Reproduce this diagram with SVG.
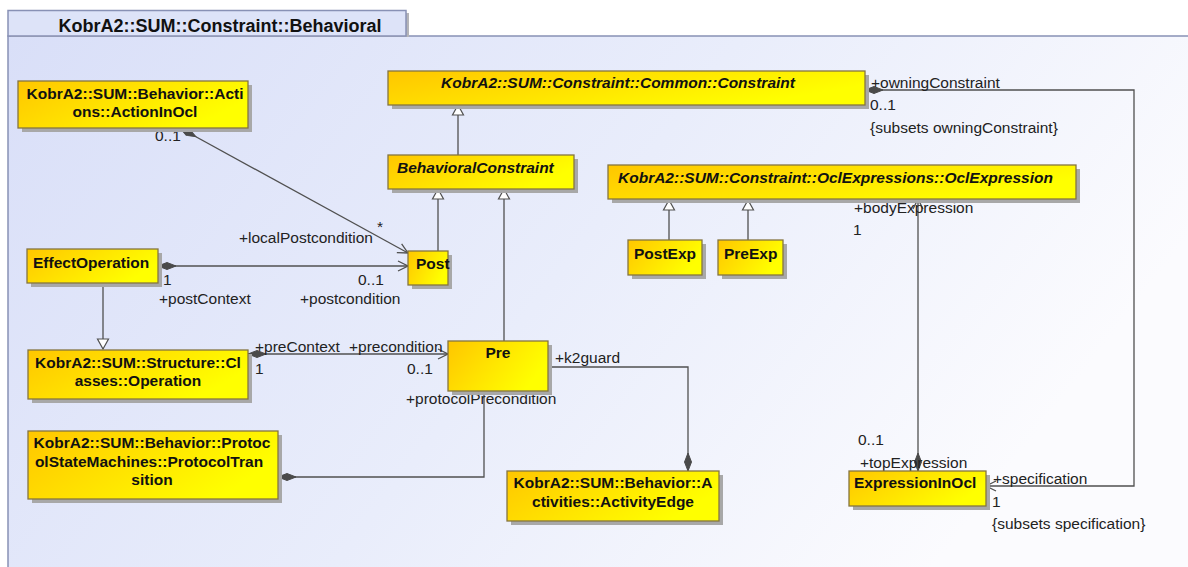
<svg xmlns="http://www.w3.org/2000/svg" width="1188" height="567" viewBox="0 0 1188 567">
  <defs>
    <linearGradient id="frameFill" x1="0" y1="0" x2="1" y2="0.35">
      <stop offset="0" stop-color="#d9dff8"/>
      <stop offset="0.55" stop-color="#e9edfb"/>
      <stop offset="1" stop-color="#fbfbfe"/>
    </linearGradient>
    <linearGradient id="classFill" x1="0" y1="0" x2="1" y2="0.4">
      <stop offset="0" stop-color="#ffc600"/>
      <stop offset="1" stop-color="#ffff00"/>
    </linearGradient>
    <marker id="diamond" markerUnits="userSpaceOnUse" orient="auto" refX="0" refY="0" overflow="visible">
      <path d="M0,0 L9,-3.5 L18,0 L9,3.5 Z" fill="#4a4a4a" stroke="#4a4a4a" stroke-width="1"/>
    </marker>
    <marker id="openArrow" markerUnits="userSpaceOnUse" orient="auto" refX="0" refY="0" overflow="visible">
      <path d="M-10,-5 L0,0 L-10,5" fill="none" stroke="#505050" stroke-width="1.3"/>
    </marker>
    <marker id="genTri" markerUnits="userSpaceOnUse" orient="auto" refX="0" refY="0" overflow="visible">
      <path d="M0,0 L-10,-5.5 L-10,5.5 Z" fill="#ffffff" stroke="#505050" stroke-width="1.2"/>
    </marker>
    <style>
      .cls rect.box { fill: url(#classFill); stroke: #857540; stroke-width: 1.3; }
      .cls rect.shadow { fill: #a8a8a8; }
      .name { font-family: "Liberation Sans", Arial, sans-serif; font-size: 15.5px; font-weight: bold; fill: #111; }
      .abstract { font-style: italic; }
      .lbl { font-family: "Liberation Sans", Arial, sans-serif; font-size: 15.5px; fill: #222; }
      .conn { fill: none; stroke: #505050; stroke-width: 1.3; }
      .gen { marker-end: url(#genTri); }
    </style>
  </defs>

  <!-- package frame -->
  <g id="frame">
    <rect x="0" y="0" width="1188" height="567" fill="#ffffff"/>
    <rect x="8" y="36" width="1190" height="540" fill="url(#frameFill)" stroke="#8891b5" stroke-width="1.5"/>
    <rect x="11" y="13" width="398" height="24" fill="#b4b4b8"/>
    <rect x="8" y="10.5" width="398" height="25.5" fill="#dde3f8" stroke="#8891b5" stroke-width="1.5"/>
    <text x="220" y="31.5" text-anchor="middle" font-family="'Liberation Sans', Arial, sans-serif" font-size="18px" font-weight="bold" fill="#111">KobrA2::SUM::Constraint::Behavioral</text>
  </g>

  <!-- connectors -->
  <g id="connectors">
    <!-- generalizations -->
    <path class="conn gen" d="M458,155 L458,105"/>
    <path class="conn gen" d="M438,251 L438,189"/>
    <path class="conn gen" d="M504,341 L504,189"/>
    <path class="conn gen" d="M669,240 L669,200"/>
    <path class="conn gen" d="M748,240 L748,200"/>
    <path class="conn gen" d="M103,283 L103,349"/>
    <!-- ActionInOcl to Post -->
    <path class="conn" d="M180,128 L408,253" marker-start="url(#diamond)" marker-end="url(#openArrow)"/>
    <!-- EffectOperation to Post -->
    <path class="conn" d="M158,266 L408,266" marker-start="url(#diamond)" marker-end="url(#openArrow)"/>
    <!-- Operation to Pre -->
    <path class="conn" d="M248,354 L448,354" marker-start="url(#diamond)" marker-end="url(#openArrow)"/>
    <!-- ProtocolTransition to Pre -->
    <path class="conn" d="M278,477 L484,477 L484,391" marker-start="url(#diamond)"/>
    <!-- ActivityEdge to Pre -->
    <path class="conn" d="M688,471 L688,367 L548,367" marker-start="url(#diamond)"/>
    <!-- Constraint to ExpressionInOcl -->
    <path class="conn" d="M865,90 L1134,90 L1134,486 L986,486" marker-start="url(#diamond)" marker-end="url(#openArrow)"/>
    <!-- ExpressionInOcl to OclExpression -->
    <path class="conn" d="M918,471 L918,199" marker-start="url(#diamond)" marker-end="url(#openArrow)"/>

    <!-- association end labels -->
    <text class="lbl" x="155" y="141">0..1</text>
    <text class="lbl" x="377" y="232">*</text>
    <text class="lbl" x="239" y="243">+localPostcondition</text>
    <text class="lbl" x="163" y="285">1</text>
    <text class="lbl" x="159" y="304">+postContext</text>
    <text class="lbl" x="358" y="285">0..1</text>
    <text class="lbl" x="300" y="304">+postcondition</text>
    <text class="lbl" x="255" y="352">+preContext</text>
    <text class="lbl" x="255" y="374">1</text>
    <text class="lbl" x="349" y="352">+precondition</text>
    <text class="lbl" x="407" y="374">0..1</text>
    <text class="lbl" x="406" y="404">+protocolPrecondition</text>
    <text class="lbl" x="555" y="363">+k2guard</text>
    <text class="lbl" x="871" y="88">+owningConstraint</text>
    <text class="lbl" x="870" y="110">0..1</text>
    <text class="lbl" x="870" y="133">{subsets owningConstraint}</text>
    <text class="lbl" x="854" y="213">+bodyExpression</text>
    <text class="lbl" x="853" y="235">1</text>
    <text class="lbl" x="858" y="445">0..1</text>
    <text class="lbl" x="860" y="468">+topExpression</text>
    <text class="lbl" x="993" y="484">+specification</text>
    <text class="lbl" x="992" y="507">1</text>
    <text class="lbl" x="992" y="529">{subsets specification}</text>
  </g>

  <!-- classes -->
  <g id="ActionInOcl" class="cls">
    <rect class="shadow" x="22" y="85" width="230" height="47"/>
    <rect class="box" x="18" y="81" width="230" height="47"/>
    <text class="name" x="135" y="99" text-anchor="middle">KobrA2::SUM::Behavior::Acti</text>
    <text class="name" x="135" y="117" text-anchor="middle">ons::ActionInOcl</text>
  </g>

  <g id="Constraint" class="cls">
    <rect class="shadow" x="392" y="75" width="477" height="34"/>
    <rect class="box" x="388" y="71" width="477" height="34"/>
    <text class="name abstract" x="618" y="88" text-anchor="middle">KobrA2::SUM::Constraint::Common::Constraint</text>
  </g>

  <g id="BehavioralConstraint" class="cls">
    <rect class="shadow" x="392" y="159" width="186" height="34"/>
    <rect class="box" x="388" y="155" width="186" height="34"/>
    <text class="name abstract" x="397" y="173">BehavioralConstraint</text>
  </g>

  <g id="OclExpression" class="cls">
    <rect class="shadow" x="612" y="169" width="468" height="34"/>
    <rect class="box" x="608" y="165" width="468" height="34"/>
    <text class="name abstract" x="618" y="183">KobrA2::SUM::Constraint::OclExpressions::OclExpression</text>
  </g>

  <g id="Post" class="cls">
    <rect class="shadow" x="412" y="255" width="40" height="34"/>
    <rect class="box" x="408" y="251" width="40" height="34"/>
    <text class="name" x="416" y="269">Post</text>
  </g>

  <g id="PostExp" class="cls">
    <rect class="shadow" x="632" y="244" width="74" height="35"/>
    <rect class="box" x="628" y="240" width="74" height="35"/>
    <text class="name" x="634" y="259">PostExp</text>
  </g>

  <g id="PreExp" class="cls">
    <rect class="shadow" x="722" y="244" width="65" height="35"/>
    <rect class="box" x="718" y="240" width="65" height="35"/>
    <text class="name" x="724" y="259">PreExp</text>
  </g>

  <g id="EffectOperation" class="cls">
    <rect class="shadow" x="31" y="253" width="131" height="34"/>
    <rect class="box" x="27" y="249" width="131" height="34"/>
    <text class="name" x="33" y="268">EffectOperation</text>
  </g>

  <g id="Operation" class="cls">
    <rect class="shadow" x="32" y="354" width="220" height="49"/>
    <rect class="box" x="28" y="350" width="220" height="49"/>
    <text class="name" x="138" y="368" text-anchor="middle">KobrA2::SUM::Structure::Cl</text>
    <text class="name" x="138" y="386" text-anchor="middle">asses::Operation</text>
  </g>

  <g id="Pre" class="cls">
    <rect class="shadow" x="452" y="345" width="100" height="50"/>
    <rect class="box" x="448" y="341" width="100" height="50"/>
    <text class="name" x="498" y="358" text-anchor="middle">Pre</text>
  </g>

  <g id="ProtocolTransition" class="cls">
    <rect class="shadow" x="32" y="435" width="250" height="68"/>
    <rect class="box" x="28" y="431" width="250" height="68"/>
    <text class="name" x="152" y="448" text-anchor="middle">KobrA2::SUM::Behavior::Protoc</text>
    <text class="name" x="149" y="467" text-anchor="middle">olStateMachines::ProtocolTran</text>
    <text class="name" x="152" y="485" text-anchor="middle">sition</text>
  </g>

  <g id="ActivityEdge" class="cls">
    <rect class="shadow" x="511" y="475" width="212" height="50"/>
    <rect class="box" x="507" y="471" width="212" height="50"/>
    <text class="name" x="613" y="488" text-anchor="middle">KobrA2::SUM::Behavior::A</text>
    <text class="name" x="613" y="507" text-anchor="middle">ctivities::ActivityEdge</text>
  </g>

  <g id="ExpressionInOcl" class="cls">
    <rect class="shadow" x="853" y="475" width="137" height="35"/>
    <rect class="box" x="849" y="471" width="137" height="35"/>
    <text class="name" x="854" y="488">ExpressionInOcl</text>
  </g>
</svg>
